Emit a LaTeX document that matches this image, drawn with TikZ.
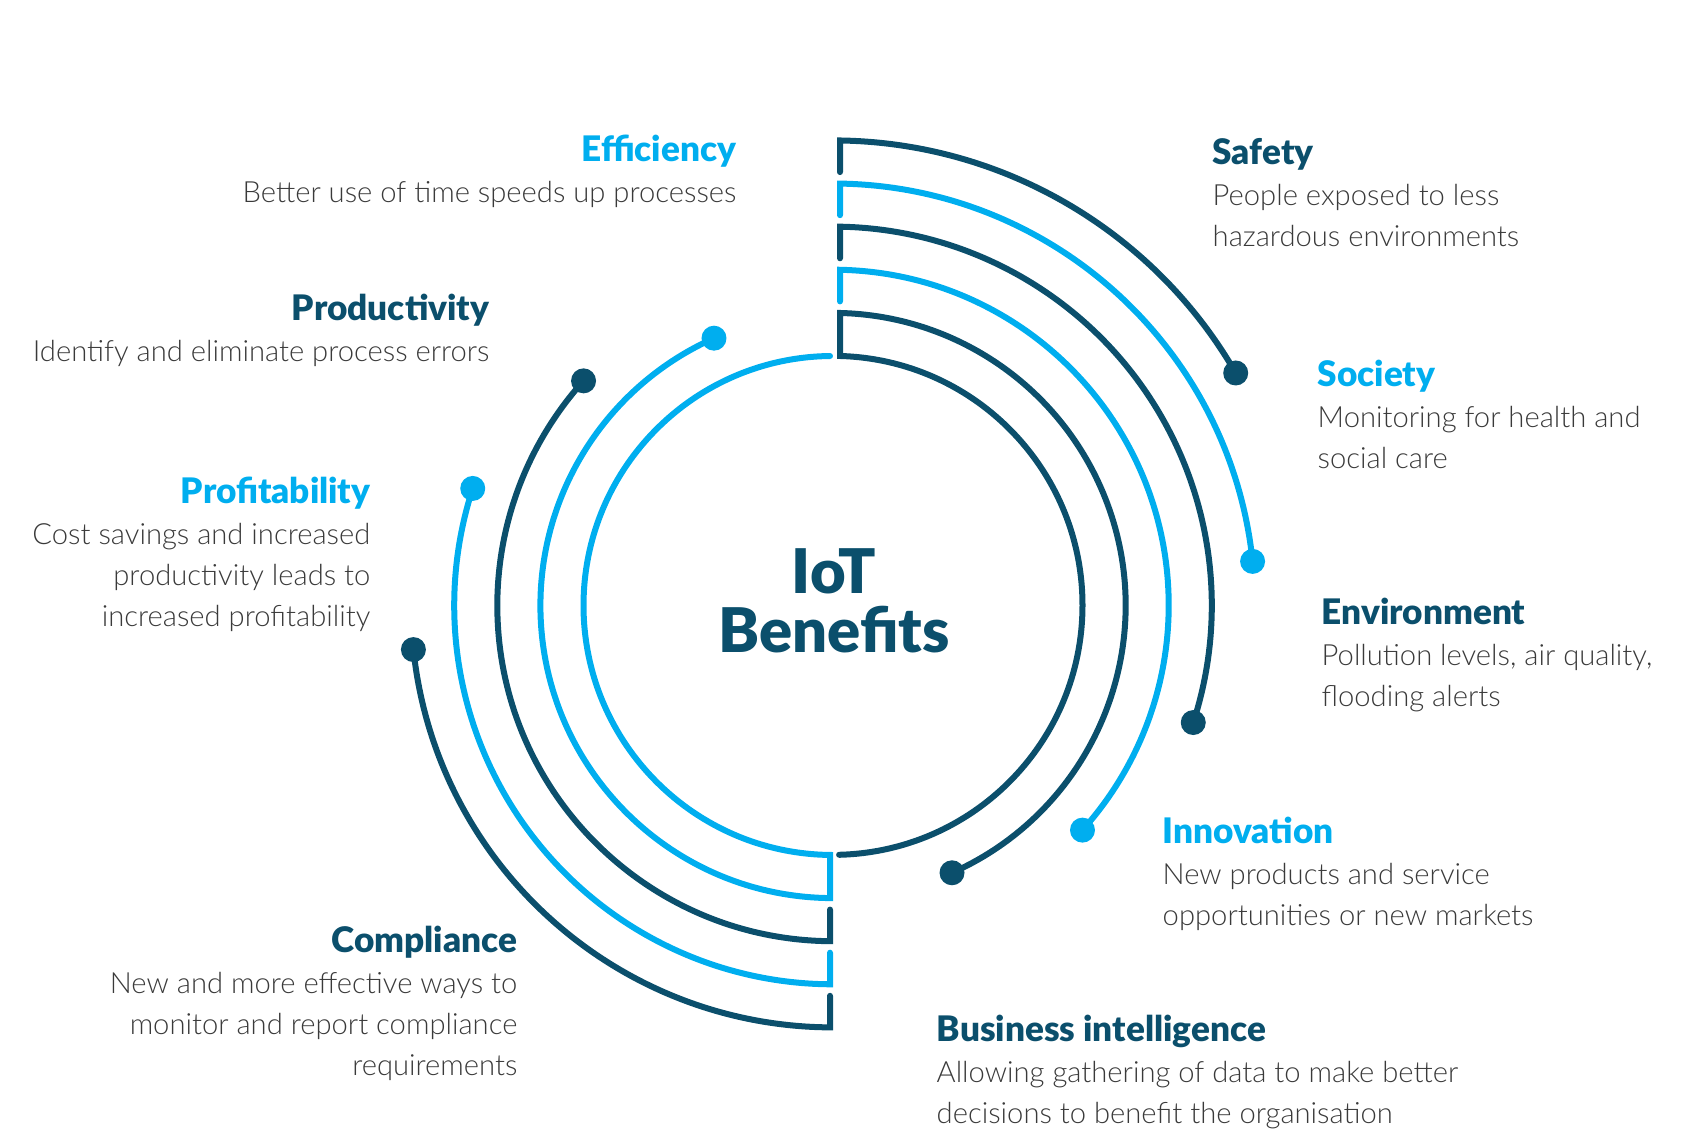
\documentclass[tikz,border=0pt]{standalone}
\usepackage{fontspec}
\setmainfont{Lato Light}
\newfontfamily\hdfont{Lato Black}
\definecolor{dk}{HTML}{0B4F6C}
\definecolor{lb}{HTML}{00AEEF}
\definecolor{txt}{HTML}{3A3A3A}
\tikzset{
  ring/.style={line width=0.06cm, line cap=round, line join=miter},
  dkring/.style={ring, draw=dk},
  lbring/.style={ring, draw=lb},
  % labels are placed by the baseline of their last line
  lblright/.style={anchor=base east, align=right, inner sep=0pt, text=txt,
    font=\fontsize{8.3pt}{11.7pt}\selectfont},
  lblleft/.style={anchor=base west, align=left, inner sep=0pt, text=txt,
    font=\fontsize{8.3pt}{11.7pt}\selectfont},
}
\newcommand{\hdd}[1]{{\hdfont\fontsize{10pt}{11.7pt}\selectfont\color{dk}#1}}
\newcommand{\hdl}[1]{{\hdfont\fontsize{10pt}{11.7pt}\selectfont\color{lb}#1}}
\begin{document}
\begin{tikzpicture}[x=0.01cm,y=0.01cm]
\useasboundingbox (0,0) rectangle (1700,1134);
\coordinate (c) at (833,528.5);

% right-hand arcs: tick at the top, then clockwise to a dot
\draw[dkring] (840,961.9) -- (840,993.5) arc[start angle={acos(7/465)}, end angle=30, radius=465];
\draw[lbring] (840,918.8) -- (840,950.4) arc[start angle={acos(7/421.9)}, end angle=6, radius=421.9];
\draw[dkring] (840,875.7) -- (840,907.3) arc[start angle={acos(7/378.8)}, end angle=-18, radius=378.8];
\draw[lbring] (840,832.6) -- (840,864.2) arc[start angle={acos(7/335.7)}, end angle=-42, radius=335.7];
\draw[dkring] ([shift={(c)}]-66:292.6) arc[start angle=-66, end angle={acos(7/292.6)}, radius=292.6]
  -- (840,778) arc[start angle={acos(7/249.5)}, end angle=-88.6, radius=249.5];

% left-hand arcs: tick at the bottom, then clockwise to a dot
\draw[lbring] ([shift={(c)}]90.689:249.5)
  arc[start angle=90.689, end angle=269.311, radius=249.5]
  -- (830,235.9) arc[start angle={360-acos(-3/292.6)}, end angle=114, radius=292.6];
\draw[dkring] (830,224.4) -- (830,192.8) arc[start angle={360-acos(-3/335.7)}, end angle=138, radius=335.7];
\draw[lbring] (830,181.3) -- (830,149.7) arc[start angle={360-acos(-3/378.8)}, end angle=162, radius=378.8];
\draw[dkring] (830,138.2) -- (830,106.6) arc[start angle={360-acos(-3/421.9)}, end angle=186, radius=421.9];

% end dots
\fill[dk] ([shift={(c)}]30:465) circle[radius=12.5];
\fill[lb] ([shift={(c)}]6:421.9) circle[radius=12.5];
\fill[dk] ([shift={(c)}]-18:378.8) circle[radius=12.5];
\fill[lb] ([shift={(c)}]-42:335.7) circle[radius=12.5];
\fill[dk] ([shift={(c)}]-66:292.6) circle[radius=12.5];
\fill[lb] ([shift={(c)}]114:292.6) circle[radius=12.5];
\fill[dk] ([shift={(c)}]138:335.7) circle[radius=12.5];
\fill[lb] ([shift={(c)}]162:378.8) circle[radius=12.5];
\fill[dk] ([shift={(c)}]186:421.9) circle[radius=12.5];

% centre title
\node[anchor=base, align=center, inner sep=0pt, text=dk,
  font=\hdfont\fontsize{17.5pt}{17pt}\selectfont] (title) at (834,481) {IoT\\Benefits};

% labels
\node[lblright] (efficiency) at (737,931) {\hdl{Efficiency}\\Better use of time speeds up processes};
\node[lblleft] (safety) at (1212,887) {\hdd{Safety}\\People exposed to less\\hazardous environments};
\node[lblright] (productivity) at (490,772) {\hdd{Productivity}\\Identify and eliminate process errors};
\node[lblleft] (society) at (1317,665) {\hdl{Society}\\Monitoring for health and\\social care};
\node[lblright] (profitability) at (371,507) {\hdl{Profitability}\\Cost savings and increased\\productivity leads to\\increased profitability};
\node[lblleft] (environment) at (1321,427) {\hdd{Environment}\\Pollution levels, air quality,\\flooding alerts};
\node[lblleft] (innovation) at (1162,208) {\hdl{Innovation}\\New products and service\\opportunities or new markets};
\node[lblright] (compliance) at (518,58) {\hdd{Compliance}\\New and more effective ways to\\monitor and report compliance\\requirements};
\node[lblleft] (business) at (936,10) {\hdd{Business intelligence}\\Allowing gathering of data to make better\\decisions to benefit the organisation};
\end{tikzpicture}
\end{document}
